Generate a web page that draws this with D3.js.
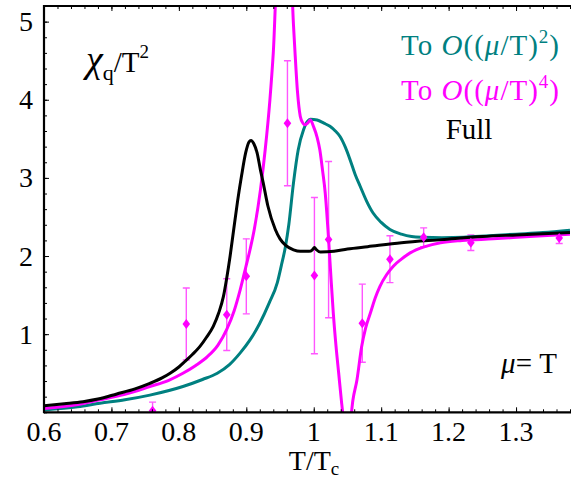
<!DOCTYPE html>
<html>
<head>
<meta charset="utf-8">
<script src="https://cdn.jsdelivr.net/npm/d3@7/dist/d3.min.js"></script>
<style>
  html, body { margin: 0; padding: 0; background: #fff; }
  svg { display: block; }
  text { font-family: "Liberation Serif", "Times New Roman", "DejaVu Serif", serif; }
</style>
</head>
<body>
<svg id="chart" width="571" height="483"></svg>
<script>
// Quark number susceptibility chi_q/T^2 vs T/Tc at mu = T

// Full result
const fullT = [0.600, 0.630, 0.658, 0.680, 0.708, 0.735, 0.757, 0.775, 0.787, 0.800, 0.809, 0.820, 0.831, 0.841, 0.851, 0.859, 0.866, 0.871, 0.876, 0.881, 0.887, 0.893, 0.899, 0.904, 0.907, 0.911, 0.916, 0.921, 0.925, 0.932, 0.943, 0.950, 0.958, 0.970, 0.980, 0.993, 0.998, 1.001, 1.004, 1.010, 1.030, 1.050, 1.080, 1.130, 1.190, 1.250, 1.300, 1.380];
const fullChi = [0.085, 0.11, 0.136, 0.17, 0.235, 0.30, 0.37, 0.44, 0.50, 0.58, 0.65, 0.74, 0.84, 0.96, 1.10, 1.27, 1.48, 1.72, 2.00, 2.32, 2.70, 3.03, 3.32, 3.46, 3.48, 3.44, 3.32, 3.10, 2.94, 2.64, 2.34, 2.22, 2.14, 2.08, 2.06, 2.06, 2.08, 2.11, 2.08, 2.05, 2.06, 2.09, 2.12, 2.17, 2.21, 2.25, 2.27, 2.30];

// Taylor expansion to O((mu/T)^2)
const o2T = [0.600, 0.650, 0.683, 0.720, 0.757, 0.806, 0.835, 0.857, 0.875, 0.891, 0.905, 0.920, 0.934, 0.946, 0.952, 0.958, 0.963, 0.970, 0.977, 0.985, 0.995, 1.005, 1.015, 1.024, 1.032, 1.039, 1.047, 1.054, 1.062, 1.069, 1.078, 1.088, 1.100, 1.113, 1.130, 1.145, 1.162, 1.190, 1.222, 1.260, 1.300, 1.340, 1.380];
const o2Chi = [0.03, 0.07, 0.115, 0.16, 0.22, 0.33, 0.42, 0.50, 0.61, 0.76, 0.92, 1.14, 1.40, 1.66, 1.88, 2.12, 2.40, 2.94, 3.36, 3.62, 3.75, 3.74, 3.70, 3.66, 3.60, 3.53, 3.39, 3.23, 3.03, 2.89, 2.71, 2.55, 2.43, 2.34, 2.28, 2.25, 2.24, 2.235, 2.24, 2.26, 2.28, 2.30, 2.33];

// Taylor expansion to O((mu/T)^4)
const o4T = [0.600, 0.650, 0.683, 0.720, 0.757, 0.785, 0.806, 0.825, 0.842, 0.858, 0.871, 0.882, 0.891, 0.899, 0.906, 0.912, 0.921, 0.928, 0.935, 0.940, 0.946, 0.966, 0.970, 0.972, 0.976, 0.980, 0.984, 0.987, 0.991, 0.995, 1.000, 1.005, 1.009, 1.013, 1.017, 1.021, 1.025, 1.029, 1.033, 1.037, 1.041, 1.045, 1.050, 1.054, 1.058, 1.064, 1.071, 1.077, 1.084, 1.091, 1.098, 1.108, 1.118, 1.130, 1.143, 1.165, 1.188, 1.220, 1.266, 1.320, 1.380];
const o4Chi = [0.05, 0.10, 0.16, 0.23, 0.33, 0.41, 0.50, 0.60, 0.71, 0.86, 1.06, 1.30, 1.57, 1.85, 2.10, 2.35, 2.85, 3.36, 4.00, 4.60, 5.60, 5.60, 4.95, 4.64, 4.09, 3.79, 3.70, 3.68, 3.70, 3.74, 3.65, 3.52, 3.36, 3.10, 2.81, 2.35, 1.80, 1.27, 0.85, 0.50, 0.15, -0.15, -0.30, -0.15, 0.15, 0.41, 0.84, 1.08, 1.27, 1.46, 1.61, 1.76, 1.87, 1.96, 2.04, 2.12, 2.17, 2.20, 2.22, 2.25, 2.28];

// Lattice points with errors
const latT = [0.761, 0.811, 0.871, 0.900, 0.961, 1.001, 1.022, 1.072, 1.113, 1.163, 1.233, 1.364];
const latChi = [0.02, 1.13, 1.25, 1.74, 3.70, 1.75, 2.21, 1.14, 1.96, 2.24, 2.17, 2.23];
const latErr = [0.11, 0.46, 0.46, 0.48, 0.80, 1.00, 1.00, 0.50, 0.30, 0.12, 0.10, 0.07];

const xTicks = [0.6, 0.7, 0.8, 0.9, 1.0, 1.1, 1.2, 1.3];
const xTickLabels = ["0.6", "0.7", "0.8", "0.9", "1", "1.1", "1.2", "1.3"];
const yTicks = [1, 2, 3, 4, 5];
const yTickLabels = ["1", "2", "3", "4", "5"];

const TEAL = "#008080", MAGENTA = "#ff00ff", ERRC = "#ff55ff";

const svg = d3.select("#chart");
const pLeft = 44, pRight = 570, pTop = 6, pBottom = 412.3;

const x = d3.scaleLinear().domain([0.6, 1.38]).range([pLeft, pRight]);
const y = d3.scaleLinear().domain([0, 5.2]).range([pBottom, pTop]);

svg.append("defs").append("clipPath").attr("id", "plotclip")
  .append("rect").attr("x", pLeft).attr("y", pTop).attr("width", pRight - pLeft).attr("height", pBottom - pTop);

const plot = svg.append("g").attr("clip-path", "url(#plotclip)");

const line = d3.line().x(d => x(d[0])).y(d => y(d[1])).curve(d3.curveMonotoneX);
const zip = (a, b) => a.map((v, i) => [v, b[i]]);

// error bars
const eb = plot.append("g").attr("stroke", ERRC).attr("stroke-width", 1.4).attr("fill", "none");
latT.forEach((t, i) => {
  const cx = x(t), y0 = y(latChi[i] - latErr[i]), y1 = y(latChi[i] + latErr[i]);
  eb.append("line").attr("x1", cx).attr("x2", cx).attr("y1", y0).attr("y2", y1);
  eb.append("line").attr("x1", cx - 3.5).attr("x2", cx + 3.5).attr("y1", y0).attr("y2", y0);
  eb.append("line").attr("x1", cx - 3.5).attr("x2", cx + 3.5).attr("y1", y1).attr("y2", y1);
});

// curves
plot.append("path").datum(zip(o2T, o2Chi)).attr("d", line)
  .attr("fill", "none").attr("stroke", TEAL).attr("stroke-width", 3);
plot.append("path").datum(zip(o4T, o4Chi)).attr("d", line)
  .attr("fill", "none").attr("stroke", MAGENTA).attr("stroke-width", 3);
plot.append("path").datum(zip(fullT, fullChi)).attr("d", line)
  .attr("fill", "none").attr("stroke", "#000").attr("stroke-width", 3);

// lattice markers
plot.append("g").selectAll("path").data(latT).join("path")
  .attr("d", (t, i) => {
    const cx = x(t), cy = y(latChi[i]);
    return `M${cx},${cy - 5}L${cx + 3.8},${cy}L${cx},${cy + 5}L${cx - 3.8},${cy}Z`;
  })
  .attr("fill", MAGENTA);

// axes (ticks pointing inward)
const xMinor = d3.range(0.6, 1.381, 0.02);
const bottomAx = svg.append("g").attr("transform", `translate(0,${pBottom})`)
  .call(d3.axisTop(x).tickValues(xMinor).tickSize(3).tickFormat(""));
const bottomMaj = svg.append("g").attr("transform", `translate(0,${pBottom})`)
  .call(d3.axisTop(x).tickValues(xTicks).tickSize(5).tickFormat(""));
const topAx = svg.append("g").attr("transform", `translate(0,${pTop})`)
  .call(d3.axisBottom(x).tickValues(xMinor).tickSize(3).tickFormat(""));
const topMaj = svg.append("g").attr("transform", `translate(0,${pTop})`)
  .call(d3.axisBottom(x).tickValues(xTicks).tickSize(5).tickFormat(""));
const yMinor = d3.range(0, 5.21, 0.2);
const leftAx = svg.append("g").attr("transform", `translate(${pLeft},0)`)
  .call(d3.axisRight(y).tickValues(yMinor).tickSize(3).tickFormat(""));
const leftMaj = svg.append("g").attr("transform", `translate(${pLeft},0)`)
  .call(d3.axisRight(y).tickValues(yTicks).tickSize(5).tickFormat(""));

[bottomAx, bottomMaj, topAx, topMaj, leftAx, leftMaj].forEach(g => {
  g.select(".domain").remove();
  g.selectAll(".tick line").attr("stroke", "#000").attr("stroke-width", 1);
});

// frame
svg.append("line").attr("x1", pLeft).attr("x2", pRight + 2).attr("y1", pBottom).attr("y2", pBottom)
  .attr("stroke", "#000").attr("stroke-width", 2.2);
svg.append("line").attr("x1", pLeft).attr("x2", pRight + 2).attr("y1", pTop).attr("y2", pTop)
  .attr("stroke", "#000").attr("stroke-width", 1.8);
svg.append("line").attr("x1", pLeft).attr("x2", pLeft).attr("y1", pTop - 1).attr("y2", pBottom + 1)
  .attr("stroke", "#000").attr("stroke-width", 2.2);

// tick labels
svg.append("g").selectAll("text").data(xTicks).join("text")
  .attr("x", d => x(d)).attr("y", 441)
  .attr("text-anchor", "middle").attr("font-size", 28)
  .text((d, i) => xTickLabels[i]);
svg.append("g").selectAll("text").data(yTicks).join("text")
  .attr("x", 33).attr("y", d => y(d)).attr("dy", "0.34em")
  .attr("text-anchor", "end").attr("font-size", 28)
  .text((d, i) => yTickLabels[i]);

// axis title
const xt = svg.append("text").attr("x", 314).attr("y", 470).attr("text-anchor", "middle").attr("font-size", 28);
xt.append("tspan").text("T/T");
xt.append("tspan").attr("font-size", 19).attr("dy", 5).text("c");

// quantity label
const yl = svg.append("text").attr("x", 86).attr("y", 72).attr("font-size", 29);
yl.append("tspan").attr("font-style", "italic").attr("font-size", 38).text("χ");
yl.append("tspan").attr("font-size", 22).attr("dy", 8).text("q");
yl.append("tspan").attr("dy", -8).text("/T");
yl.append("tspan").attr("font-size", 19).attr("dy", -14).text("2");

// legend
function legendEntry(yb, color) {
  return svg.append("text").attr("x", 560).attr("y", yb).attr("text-anchor", "end")
    .attr("font-size", 29).attr("letter-spacing", 1).attr("fill", color);
}
const l2 = legendEntry(55, TEAL);
l2.append("tspan").text("To ");
l2.append("tspan").attr("font-style", "italic").text("O");
l2.append("tspan").text("((");
l2.append("tspan").attr("font-style", "italic").text("μ");
l2.append("tspan").text("/T)");
l2.append("tspan").attr("font-size", 19).attr("dy", -12).text("2");
l2.append("tspan").attr("dy", 12).text(")");

const l4 = legendEntry(100, MAGENTA);
l4.append("tspan").text("To ");
l4.append("tspan").attr("font-style", "italic").text("O");
l4.append("tspan").text("((");
l4.append("tspan").attr("font-style", "italic").text("μ");
l4.append("tspan").text("/T)");
l4.append("tspan").attr("font-size", 19).attr("dy", -12).text("4");
l4.append("tspan").attr("dy", 12).text(")");

svg.append("text").attr("x", 469).attr("y", 139).attr("text-anchor", "middle")
  .attr("font-size", 29).text("Full");

// chemical potential note
const mu = svg.append("text").attr("x", 557).attr("y", 373).attr("text-anchor", "end").attr("font-size", 29);
mu.append("tspan").attr("font-style", "italic").text("μ");
mu.append("tspan").text("= T");
</script>
</body>
</html>
